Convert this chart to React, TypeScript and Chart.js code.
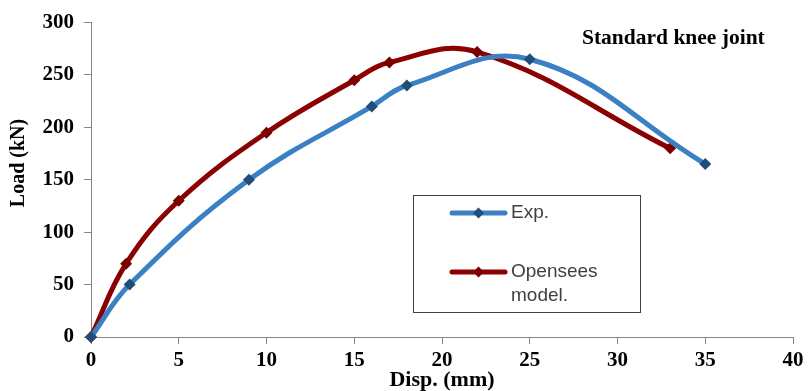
import React, { useEffect, useRef } from "react";
import { Chart, registerables } from "chart.js";

Chart.register(...registerables);

const expDisp = [0, 2.2, 9, 16, 18, 25, 35];
const expLoad = [0, 50, 150, 220, 240, 265, 165];
const opsDisp = [0, 2, 5, 10, 15, 17, 22, 33];
const opsLoad = [0, 70, 130, 195, 245, 262, 272, 180];

const seriesNames = ["Exp.", "Opensees model."];
const chartTitle = "Standard knee joint";
const xTitle = "Disp. (mm)";
const yTitle = "Load (kN)";

const BLUE = "#3A80C3";
const BLUE_MK = "#1F4E79";
const RED = "#8B0000";
const RED_MK = "#7A0000";
const AXIS = "#868686";
const SERIF = "'Liberation Serif', 'Times New Roman', serif";
const SANS = "'Liberation Sans', Arial, sans-serif";

function diamond(ctx: CanvasRenderingContext2D, x: number, y: number, r: number, c: string) {
  ctx.beginPath();
  ctx.moveTo(x, y - r);
  ctx.lineTo(x + r, y);
  ctx.lineTo(x, y + r);
  ctx.lineTo(x - r, y);
  ctx.closePath();
  ctx.fillStyle = c;
  ctx.fill();
}

const overlayPlugin = {
  id: "overlay",
  afterDraw(chart: any) {
    const ctx = chart.ctx as CanvasRenderingContext2D;
    ctx.save();
    // title
    ctx.font = `bold 21.5px ${SERIF}`;
    ctx.fillStyle = "#000";
    ctx.textBaseline = "alphabetic";
    ctx.textAlign = "left";
    ctx.fillText(chartTitle, 582, 44);
    // y axis title
    ctx.save();
    ctx.translate(19, 163);
    ctx.rotate(-Math.PI / 2);
    ctx.font = `bold 20px ${SERIF}`;
    ctx.textAlign = "center";
    ctx.textBaseline = "middle";
    ctx.fillText(yTitle, 0, 0);
    ctx.restore();
    // legend box
    ctx.strokeStyle = "#404040";
    ctx.lineWidth = 1;
    ctx.strokeRect(413.5, 195.5, 227, 117);
    const items = [
      { y: 213, color: BLUE, mk: BLUE_MK, lines: [seriesNames[0]] },
      { y: 272, color: RED, mk: RED_MK, lines: ["Opensees", "model."] },
    ];
    for (const it of items) {
      ctx.beginPath();
      ctx.strokeStyle = it.color;
      ctx.lineWidth = 5;
      ctx.lineCap = "round";
      ctx.moveTo(452, it.y);
      ctx.lineTo(505, it.y);
      ctx.stroke();
      diamond(ctx, 478.5, it.y, 5.5, it.mk);
      ctx.font = `19px ${SANS}`;
      ctx.fillStyle = "#404040";
      ctx.textAlign = "left";
      ctx.textBaseline = "middle";
      it.lines.forEach((t, i) => ctx.fillText(t, 511, it.y + i * 24));
    }
    ctx.restore();
  },
};

export default function App() {
  const ref = useRef<HTMLCanvasElement>(null);
  useEffect(() => {
    document.body.style.margin = "0";
    const chart = new Chart(ref.current!, {
      type: "scatter",
      data: {
        datasets: [
          {
            label: seriesNames[0],
            data: expDisp.map((x, i) => ({ x, y: expLoad[i] })),
            showLine: true,
            borderColor: BLUE,
            borderWidth: 5,
            tension: 0.4,
            pointStyle: "rectRot",
            pointRadius: 6,
            pointBackgroundColor: BLUE_MK,
            pointBorderColor: BLUE_MK,
            pointBorderWidth: 0,
            clip: false as any,
          },
          {
            label: seriesNames[1],
            data: opsDisp.map((x, i) => ({ x, y: opsLoad[i] })),
            showLine: true,
            borderColor: RED,
            borderWidth: 5,
            tension: 0.4,
            pointStyle: "rectRot",
            pointRadius: 6,
            pointBackgroundColor: RED_MK,
            pointBorderColor: RED_MK,
            pointBorderWidth: 0,
            clip: false as any,
          },
        ],
      },
      options: {
        responsive: false,
        animation: false,
        layout: { padding: { top: 19, right: 15, left: 0, bottom: 0 } },
        plugins: { legend: { display: false }, tooltip: { enabled: false } },
        scales: {
          x: {
            type: "linear",
            min: 0,
            max: 40,
            afterFit: (s: any) => { s.height = 54; },
            ticks: {
              stepSize: 5,
              color: "#000",
              padding: 4,
              font: { family: SERIF, size: 21, weight: "bold" },
            },
            grid: { drawOnChartArea: false, drawTicks: true, tickLength: 7, color: AXIS },
            border: { color: AXIS, width: 1 },
            title: {
              display: true,
              text: xTitle,
              color: "#000",
              font: { family: SERIF, size: 22, weight: "bold", lineHeight: 1 },
              padding: { top: 0, bottom: 0 },
            },
          },
          y: {
            type: "linear",
            min: 0,
            max: 300,
            afterFit: (s: any) => { s.width = 91; },
            ticks: {
              stepSize: 50,
              color: "#000",
              padding: 10,
              font: { family: SERIF, size: 21, weight: "bold" },
            },
            grid: { drawOnChartArea: false, drawTicks: true, tickLength: 7, color: AXIS },
            border: { color: AXIS, width: 1 },
            title: { display: false },
          },
        },
      },
      plugins: [overlayPlugin],
    });
    return () => chart.destroy();
  }, []);
  return (
    <div style={{ width: 808, height: 391 }}>
      <canvas ref={ref} width={808} height={391} style={{ display: "block" }} />
    </div>
  );
}
